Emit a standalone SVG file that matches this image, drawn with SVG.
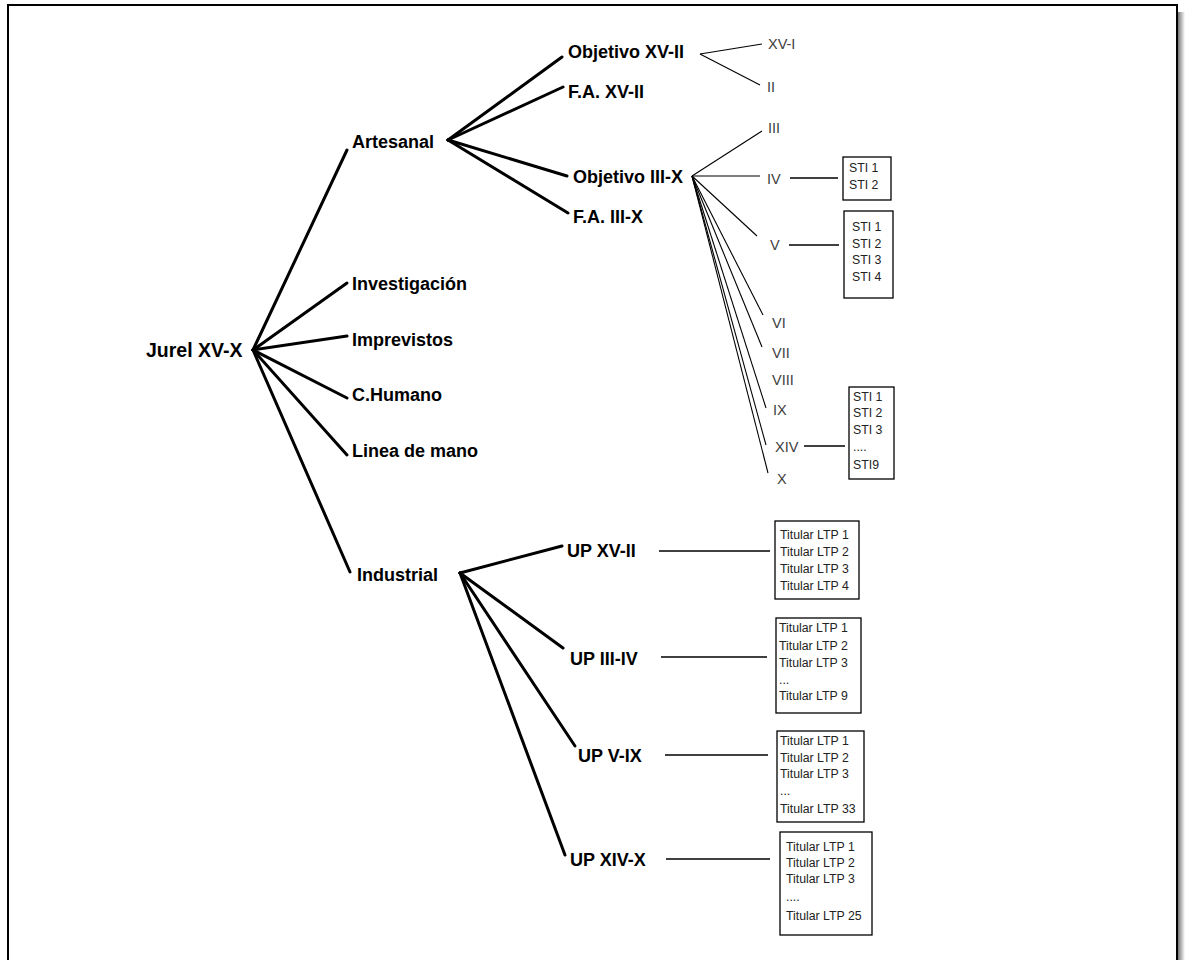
<svg xmlns="http://www.w3.org/2000/svg" width="1185" height="960" viewBox="0 0 1185 960">
<defs>
<linearGradient id="shadow" x1="0" y1="0" x2="1" y2="0">
<stop offset="0" stop-color="#777"/>
<stop offset="1" stop-color="#fff"/>
</linearGradient>
<style>
.lbl{font-family:"Liberation Sans",Arial,sans-serif;font-weight:bold;font-size:18px;fill:#000}
.rom{font-family:"Liberation Sans",Arial,sans-serif;font-size:14.5px;fill:#404040}
.box{fill:#fff;stroke:#000;stroke-width:1.3}
.bt{font-family:"Liberation Sans",Arial,sans-serif;font-size:12.3px;fill:#222}
.thick{stroke:#000;stroke-width:3;stroke-linecap:round;fill:none}
.thin{stroke:#000;stroke-width:1.1;fill:none}
.conn{stroke:#000;stroke-width:1.3;fill:none}
</style>
</defs>
<rect x="0" y="0" width="1185" height="960" fill="#fff"/>
<rect x="1178" y="12" width="7" height="960" fill="url(#shadow)"/>
<rect x="8" y="5" width="1169" height="965" fill="#fff" stroke="#000" stroke-width="2"/>

<g id="connectors">
<line class="thick" x1="253" y1="350" x2="347" y2="150"/>
<line class="thick" x1="253" y1="350" x2="347" y2="283"/>
<line class="thick" x1="253" y1="350" x2="347" y2="336"/>
<line class="thick" x1="253" y1="350" x2="347" y2="398"/>
<line class="thick" x1="253" y1="350" x2="347" y2="455"/>
<line class="thick" x1="253" y1="350" x2="350" y2="572"/>
<line class="thick" x1="448" y1="140" x2="562" y2="57"/>
<line class="thick" x1="448" y1="140" x2="563" y2="87"/>
<line class="thick" x1="448" y1="140" x2="567" y2="176"/>
<line class="thick" x1="448" y1="140" x2="568" y2="213"/>
<line class="thick" x1="460" y1="573" x2="562" y2="546"/>
<line class="thick" x1="460" y1="573" x2="563" y2="648"/>
<line class="thick" x1="460" y1="573" x2="575" y2="746"/>
<line class="thick" x1="460" y1="573" x2="565" y2="855"/>
<line class="thin" x1="700" y1="54" x2="762" y2="44"/>
<line class="thin" x1="700" y1="54" x2="760" y2="85"/>
<line class="thin" x1="692" y1="176" x2="762" y2="131"/>
<line class="thin" x1="692" y1="176" x2="760" y2="176"/>
<line class="thin" x1="692" y1="176" x2="757" y2="236"/>
<line class="thin" x1="692" y1="176" x2="763" y2="315"/>
<line class="thin" x1="692" y1="176" x2="762" y2="347"/>
<line class="thin" x1="692" y1="176" x2="766" y2="408"/>
<line class="thin" x1="692" y1="176" x2="766" y2="445"/>
<line class="thin" x1="692" y1="176" x2="768" y2="473"/>
<line class="conn" x1="790" y1="178" x2="838" y2="178"/>
<line class="conn" x1="789" y1="245" x2="839" y2="245"/>
<line class="conn" x1="804" y1="446" x2="845" y2="446"/>
<line class="conn" x1="659" y1="551" x2="770" y2="551"/>
<line class="conn" x1="661" y1="657" x2="767" y2="657"/>
<line class="conn" x1="665" y1="755" x2="768" y2="755"/>
<line class="conn" x1="666" y1="859" x2="770" y2="859"/>
</g>

<g id="n-root"><text class="lbl" x="146" y="357" style="font-size:19.5px">Jurel XV-X</text></g>
<g id="n-artesanal"><text class="lbl" x="352" y="148">Artesanal</text></g>
<g id="n-investigacion"><text class="lbl" x="352" y="290">Investigación</text></g>
<g id="n-imprevistos"><text class="lbl" x="352" y="346">Imprevistos</text></g>
<g id="n-chumano"><text class="lbl" x="352" y="401">C.Humano</text></g>
<g id="n-linea"><text class="lbl" x="352" y="457">Linea de mano</text></g>
<g id="n-industrial"><text class="lbl" x="357" y="581">Industrial</text></g>

<g id="n-obj-xv-ii"><text class="lbl" x="568" y="58">Objetivo XV-II</text></g>
<g id="n-fa-xv-ii"><text class="lbl" x="568" y="98">F.A. XV-II</text></g>
<g id="n-obj-iii-x"><text class="lbl" x="573" y="183">Objetivo III-X</text></g>
<g id="n-fa-iii-x"><text class="lbl" x="573" y="223">F.A. III-X</text></g>

<g id="n-up-xv-ii"><text class="lbl" x="567" y="557">UP XV-II</text></g>
<g id="n-up-iii-iv"><text class="lbl" x="570" y="665">UP III-IV</text></g>
<g id="n-up-v-ix"><text class="lbl" x="578" y="762">UP V-IX</text></g>
<g id="n-up-xiv-x"><text class="lbl" x="570" y="866">UP XIV-X</text></g>

<g id="n-xv-i"><text class="rom" x="768" y="49">XV-I</text></g>
<g id="n-ii"><text class="rom" x="767" y="92">II</text></g>
<g id="n-iii"><text class="rom" x="768" y="133">III</text></g>
<g id="n-iv"><text class="rom" x="767" y="184">IV</text></g>
<g id="n-v"><text class="rom" x="770" y="250">V</text></g>
<g id="n-vi"><text class="rom" x="772" y="328">VI</text></g>
<g id="n-vii"><text class="rom" x="772" y="358">VII</text></g>
<g id="n-viii"><text class="rom" x="772" y="385">VIII</text></g>
<g id="n-ix"><text class="rom" x="773" y="415">IX</text></g>
<g id="n-xiv"><text class="rom" x="775" y="452">XIV</text></g>
<g id="n-x"><text class="rom" x="777" y="484">X</text></g>

<g id="box-iv">
<rect class="box" x="843" y="157" width="48" height="43"/>
<text class="bt" x="849" y="172">STI 1</text>
<text class="bt" x="849" y="189">STI 2</text>
</g>
<g id="box-v">
<rect class="box" x="844" y="211" width="49" height="87"/>
<text class="bt" x="852" y="231">STI 1</text>
<text class="bt" x="852" y="248">STI 2</text>
<text class="bt" x="852" y="264">STI 3</text>
<text class="bt" x="852" y="281">STI 4</text>
</g>
<g id="box-xiv">
<rect class="box" x="849" y="387" width="45" height="92"/>
<text class="bt" x="853" y="401">STI 1</text>
<text class="bt" x="853" y="417">STI 2</text>
<text class="bt" x="853" y="434">STI 3</text>
<text class="bt" x="853" y="451">....</text>
<text class="bt" x="853" y="469">STI9</text>
</g>

<g id="box-up-xv-ii">
<rect class="box" x="775" y="521" width="84" height="78"/>
<text class="bt" x="780" y="539">Titular LTP 1</text>
<text class="bt" x="780" y="556">Titular LTP 2</text>
<text class="bt" x="780" y="573">Titular LTP 3</text>
<text class="bt" x="780" y="590">Titular LTP 4</text>
</g>
<g id="box-up-iii-iv">
<rect class="box" x="776" y="618" width="85" height="95"/>
<text class="bt" x="779" y="632">Titular LTP 1</text>
<text class="bt" x="779" y="650">Titular LTP 2</text>
<text class="bt" x="779" y="667">Titular LTP 3</text>
<text class="bt" x="779" y="684">...</text>
<text class="bt" x="779" y="700">Titular LTP 9</text>
</g>
<g id="box-up-v-ix">
<rect class="box" x="777" y="731" width="87" height="91"/>
<text class="bt" x="780" y="745">Titular LTP 1</text>
<text class="bt" x="780" y="762">Titular LTP 2</text>
<text class="bt" x="780" y="778">Titular LTP 3</text>
<text class="bt" x="780" y="795">...</text>
<text class="bt" x="780" y="813">Titular LTP 33</text>
</g>
<g id="box-up-xiv-x">
<rect class="box" x="780" y="832" width="92" height="103"/>
<text class="bt" x="786" y="851">Titular LTP 1</text>
<text class="bt" x="786" y="867">Titular LTP 2</text>
<text class="bt" x="786" y="883">Titular LTP 3</text>
<text class="bt" x="786" y="901">....</text>
<text class="bt" x="786" y="920">Titular LTP 25</text>
</g>
</svg>
